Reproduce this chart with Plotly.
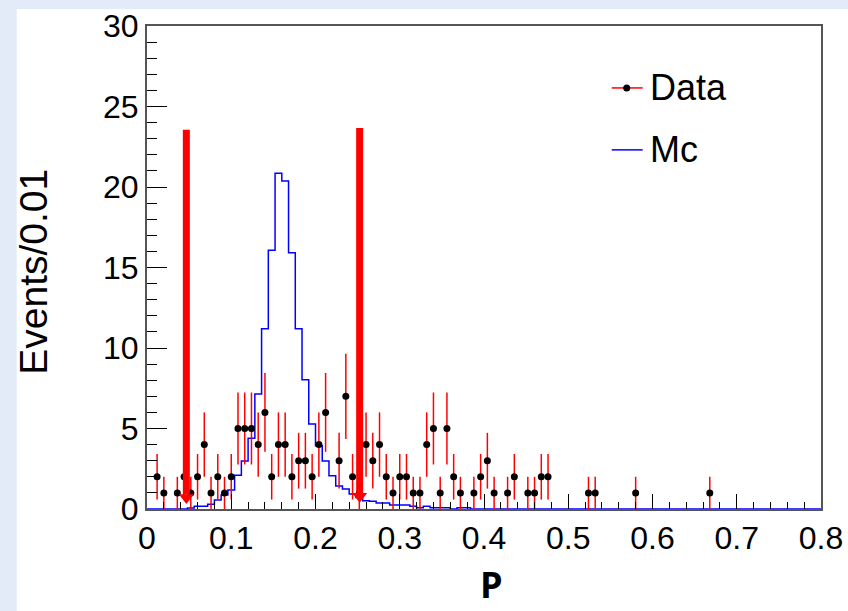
import numpy as np
import plotly.graph_objects as go

# ---------------- data ----------------
bin_width = 0.008
n_bins = 100

# data counts: bin index -> count
data_bins = [1, 2, 4, 5, 6, 7, 8, 9, 10, 11, 12, 13, 14, 15, 16, 17, 18, 19, 20,
             21, 22, 23, 24, 25, 26, 28, 29, 30, 31, 32, 33, 34, 35, 36, 37, 38,
             39, 40, 41, 42, 43, 44, 45, 46, 48, 49, 50, 51, 53, 54, 56, 57, 58,
             59, 65, 66, 72, 83]
data_counts = [2, 1, 1, 2, 1, 2, 4, 1, 2, 1, 2, 5, 5, 5, 4, 6, 2, 4, 4,
               2, 3, 3, 2, 4, 6, 3, 7, 2, 1, 4, 3, 4, 2, 1, 2, 2,
               1, 1, 4, 5, 1, 5, 2, 1, 1, 2, 3, 1, 1, 2, 1, 1, 2,
               2, 1, 1, 1, 1]

# MC histogram (first 48 bins, rest zero)
mc_values = [0, 0, 0, 0, 0, 0, 0.06, 0.17, 0.17, 0.29,
             0.56, 0.87, 1.18, 2.09, 2.98, 4.39, 7.14, 11.2, 16.07, 20.85,
             20.37, 15.92, 11.2, 8.03, 5.28, 3.93, 2.98, 2.07, 1.43, 1.24,
             0.93, 0.72, 0.52, 0.48, 0.37, 0.37, 0.25, 0.25, 0.25, 0.17,
             0.08, 0.17, 0.08, 0.08, 0.08, 0, 0.08, 0.08]
mc_values = mc_values + [0] * (n_bins - len(mc_values))

# cut arrows
cut_x = [0.0467, 0.2524]
arrow_top = [23.56, 23.67]
arrow_shaft_bottom = [0.9, 0.95]
arrow_head_y = [0.71, 0.79]

x_tick_vals = [0, 0.1, 0.2, 0.3, 0.4, 0.5, 0.6, 0.7, 0.8]
x_tick_text = ["0", "0.1", "0.2", "0.3", "0.4", "0.5", "0.6", "0.7", "0.8"]
y_tick_vals = [0, 5, 10, 15, 20, 25, 30]
y_tick_text = ["0", "5", "10", "15", "20", "25", "30"]

legend_labels = ["Data", "Mc"]

# ---------------- figure ----------------
W, H = 848, 611
L, R, T, B = 147, 821, 26, 509.5
pw, ph = R - L, B - T


def px2x(px):
    return (px - L) / pw


def py2y(py):
    return (B - py) / ph


FONT = "Liberation Sans, Arial, sans-serif"

fig = go.Figure()

# MC step histogram
edges = [i * bin_width for i in range(n_bins + 1)]
mc_x = edges
mc_y = mc_values + [mc_values[-1]]
fig.add_trace(go.Scatter(
    x=mc_x, y=mc_y, mode="lines", line=dict(color="#0000ff", width=1.5, shape="hv"),
    showlegend=False, hoverinfo="skip"))

# Data points
dx = [bin_width * (k + 0.5) for k in data_bins]
err = [np.sqrt(c) for c in data_counts]
fig.add_trace(go.Scatter(
    x=dx, y=data_counts, mode="markers",
    marker=dict(color="black", size=7, symbol="circle"),
    error_y=dict(type="data", array=err, symmetric=True, color="#ff0000",
                 thickness=1.5, width=0),
    showlegend=False, cliponaxis=False))

# arrow shafts
shapes = []
for xc, yt, yb in zip(cut_x, arrow_top, arrow_shaft_bottom):
    shapes.append(dict(type="line", xref="x", yref="y", x0=xc, x1=xc, y0=yt, y1=yb,
                       line=dict(color="#ff0000", width=7), layer="above"))

# arrow heads
fig.add_trace(go.Scatter(
    x=cut_x, y=arrow_head_y, mode="markers",
    marker=dict(symbol="triangle-down", size=13, color="#ff0000",
                line=dict(width=0)),
    showlegend=False, cliponaxis=False, hoverinfo="skip"))

# background border (paper pattern band at top/left)
shapes.insert(0, dict(type="rect", xref="paper", yref="paper",
                      x0=px2x(16.7), x1=px2x(860), y0=py2y(9), y1=py2y(620),
                      fillcolor="white", line=dict(width=0), layer="below"))

# legend (manual)
leg_line_x0, leg_line_x1 = px2x(611.7), px2x(642.7)
leg_y = [py2y(88), py2y(150)]
shapes.append(dict(type="line", xref="paper", yref="paper", x0=leg_line_x0, x1=leg_line_x1,
                   y0=leg_y[0], y1=leg_y[0], line=dict(color="#ff0000", width=1.5)))
shapes.append(dict(type="circle", xref="paper", yref="paper", xsizemode="pixel",
                   ysizemode="pixel", xanchor=px2x(626.7), yanchor=leg_y[0],
                   x0=-3.5, x1=3.5, y0=-3.5, y1=3.5, fillcolor="black",
                   line=dict(width=0)))
shapes.append(dict(type="line", xref="paper", yref="paper", x0=leg_line_x0, x1=leg_line_x1,
                   y0=leg_y[1], y1=leg_y[1], line=dict(color="#0000ff", width=1.5)))

annotations = []
for lab, yy in zip(legend_labels, leg_y):
    annotations.append(dict(text=lab, xref="paper", yref="paper", x=px2x(648), y=yy,
                            xanchor="left", yanchor="middle", showarrow=False,
                            font=dict(family=FONT, size=36, color="black")))

# axis titles
annotations.append(dict(text="Events/0.01", xref="paper", yref="paper",
                        x=px2x(34), y=py2y(272), textangle=-90, showarrow=False,
                        xanchor="center", yanchor="middle",
                        font=dict(family=FONT, size=39, color="black")))
annotations.append(dict(text="<b>P</b>", xref="paper", yref="paper",
                        x=px2x(491), y=py2y(610.5), showarrow=False,
                        xanchor="center", yanchor="bottom", borderpad=0,
                        font=dict(family="Open Sans, sans-serif", size=36, color="black")))

fig.update_layout(
    width=W, height=H, autosize=False,
    margin=dict(l=L, r=W - R, t=T, b=H - B, pad=0, autoexpand=False),
    paper_bgcolor="#e2ebf7", plot_bgcolor="white",
    shapes=shapes, annotations=annotations, showlegend=False,
    xaxis=dict(range=[0, 0.8], tickmode="array", tickvals=x_tick_vals, ticktext=x_tick_text,
               ticks="inside", ticklen=15, tickwidth=1, tickcolor="black", automargin=False,
               minor=dict(dtick=0.02, ticks="inside", ticklen=7, tickwidth=1, tickcolor="black", showgrid=False),
               showgrid=False, zeroline=False, showline=True, mirror=True,
               linecolor="#555555", linewidth=2,
               tickfont=dict(family=FONT, size=32, color="black")),
    yaxis=dict(range=[0, 30], tickmode="array", tickvals=y_tick_vals, ticktext=y_tick_text,
               ticks="inside", ticklen=20, tickwidth=1, tickcolor="black", automargin=False,
               minor=dict(dtick=1, ticks="inside", ticklen=10, tickwidth=1, tickcolor="black", showgrid=False),
               showgrid=False, zeroline=False, showline=True, mirror=True,
               linecolor="#555555", linewidth=2,
               tickfont=dict(family=FONT, size=32, color="black")),
)

fig.write_html(
    "out.html",
    config={"displayModeBar": False},
    post_script="document.body.style.margin='0px';document.body.style.overflow='hidden';",
)
